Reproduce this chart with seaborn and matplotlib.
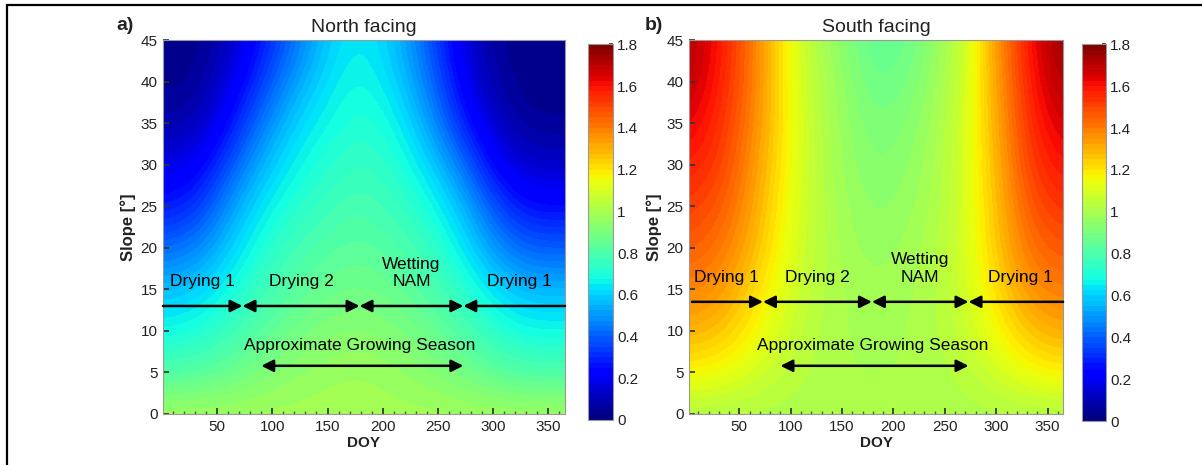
import numpy as np
import matplotlib
matplotlib.use("Agg")
import matplotlib.pyplot as plt
from matplotlib.colors import BoundaryNorm
from matplotlib.patches import Rectangle
import seaborn as sns

# grid: day of year (columns, every 30 days) x slope (rows)
doy = [1, 31, 61, 91, 121, 151, 181, 211, 241, 271, 301, 331, 361]
slope = [0, 5, 10, 15, 20, 25, 30, 35, 40, 45]

# ratio of radiation on the slope to a flat surface, north facing
north_ratio = [
    [0.99, 0.99, 0.99, 0.99, 0.99, 0.99, 0.99, 0.99, 0.99, 0.99, 0.99, 0.99, 0.99],
    [0.80, 0.82, 0.86, 0.91, 0.95, 0.97, 0.98, 0.96, 0.93, 0.89, 0.84, 0.80, 0.80],
    [0.68, 0.70, 0.76, 0.83, 0.88, 0.92, 0.93, 0.91, 0.87, 0.81, 0.73, 0.68, 0.68],
    [0.57, 0.60, 0.68, 0.77, 0.83, 0.87, 0.88, 0.86, 0.81, 0.74, 0.63, 0.56, 0.56],
    [0.42, 0.46, 0.60, 0.71, 0.78, 0.82, 0.84, 0.81, 0.76, 0.66, 0.50, 0.40, 0.40],
    [0.27, 0.31, 0.50, 0.65, 0.72, 0.77, 0.80, 0.76, 0.70, 0.58, 0.37, 0.25, 0.25],
    [0.17, 0.20, 0.37, 0.56, 0.67, 0.72, 0.76, 0.72, 0.63, 0.45, 0.22, 0.13, 0.13],
    [0.08, 0.09, 0.25, 0.45, 0.61, 0.68, 0.72, 0.68, 0.53, 0.30, 0.13, 0.05, 0.05],
    [0.04, 0.04, 0.17, 0.34, 0.52, 0.64, 0.69, 0.62, 0.45, 0.22, 0.07, 0.03, 0.03],
    [0.03, 0.03, 0.10, 0.27, 0.43, 0.60, 0.66, 0.58, 0.40, 0.17, 0.05, 0.03, 0.03],
]

# same ratio, south facing
south_ratio = [
    [1.01, 1.01, 1.01, 1.01, 1.01, 1.01, 1.01, 1.01, 1.01, 1.01, 1.01, 1.01, 1.01],
    [1.17, 1.15, 1.10, 1.05, 1.02, 1.00, 1.00, 1.00, 1.01, 1.04, 1.09, 1.15, 1.18],
    [1.30, 1.27, 1.18, 1.09, 1.03, 1.00, 0.99, 1.00, 1.02, 1.07, 1.16, 1.27, 1.31],
    [1.39, 1.35, 1.24, 1.12, 1.04, 1.00, 0.98, 0.99, 1.02, 1.09, 1.22, 1.36, 1.40],
    [1.46, 1.42, 1.30, 1.15, 1.05, 0.99, 0.96, 0.98, 1.02, 1.10, 1.26, 1.42, 1.47],
    [1.52, 1.47, 1.34, 1.17, 1.05, 0.98, 0.94, 0.96, 1.01, 1.10, 1.28, 1.47, 1.54],
    [1.58, 1.52, 1.37, 1.19, 1.05, 0.97, 0.92, 0.94, 1.00, 1.10, 1.30, 1.52, 1.60],
    [1.64, 1.55, 1.40, 1.20, 1.05, 0.96, 0.90, 0.92, 0.99, 1.10, 1.32, 1.55, 1.66],
    [1.70, 1.58, 1.42, 1.20, 1.04, 0.95, 0.87, 0.89, 0.97, 1.09, 1.34, 1.58, 1.72],
    [1.72, 1.60, 1.42, 1.20, 1.02, 0.93, 0.84, 0.86, 0.95, 1.08, 1.36, 1.60, 1.76],
]

# seasons marked on the plots
phase_bounds = [1, 73, 179, 273, 365]
phase_labels = ["Drying 1", "Drying 2", "Wetting\nNAM", "Drying 1"]
growing_season = [90, 273]

panels = [
    ("a)", "North facing", north_ratio, 13.0),
    ("b)", "South facing", south_ratio, 13.5),
]

sns.set_theme(style="white")
plt.rcParams["font.family"] = ["Liberation Sans", "DejaVu Sans"]

fig = plt.figure(figsize=(12.02, 4.65), dpi=100)

ax_boxes = [[0.1356, 0.1097, 0.3344, 0.804], [0.5732, 0.1097, 0.3112, 0.804]]
cbar_boxes = [[0.4892, 0.0968, 0.0208, 0.808], [0.9002, 0.0946, 0.0200, 0.810]]
letter_x = [0.097, 0.536]

levels = np.linspace(0, 1.8, 73)
norm = BoundaryNorm(levels, ncolors=256)
ink = "#222222"
half_step = (doy[1] - doy[0]) / 2
extent = [doy[0] - half_step, doy[-1] + half_step, -2.5, 47.5]

for i, (letter, title, ratio, line_y) in enumerate(panels):
    ax = fig.add_axes(ax_boxes[i])
    im = ax.imshow(np.array(ratio), origin="lower", extent=extent, aspect="auto",
                   cmap="jet", norm=norm, interpolation="bicubic",
                   interpolation_stage="data")
    ax.set_xlim(1, 365)
    ax.set_ylim(0, 45)
    ax.set_xticks(range(50, 351, 50))
    ax.set_xticks(range(10, 361, 10), minor=True)
    ax.set_yticks(range(0, 46, 5))
    ax.tick_params(axis="both", which="major", direction="in", length=4,
                   labelsize=11, colors="#333333", labelcolor=ink, pad=4,
                   bottom=True, left=True)
    ax.tick_params(axis="x", which="minor", direction="in", length=2.5,
                   bottom=True, colors="#555555")
    for sp in ax.spines.values():
        sp.set_color("#999999")
        sp.set_linewidth(0.8)
    ax.set_xlabel("DOY", fontsize=11, fontweight="bold", color=ink, labelpad=2)
    ax.set_ylabel("Slope [°]", fontsize=12, fontweight="bold", color=ink,
                  labelpad=3)
    ax.set_title(title, fontsize=14, color=ink, pad=6)
    fig.text(letter_x[i], 0.935, letter, fontsize=14, fontweight="bold",
             color=ink, va="baseline")

    # season arrows along one line
    start = phase_bounds[0] if i == 0 else 4
    styles = ["-|>", "<|-|>", "<|-|>", "<|-"]
    for k in range(4):
        x0 = start if k == 0 else phase_bounds[k]
        x1 = phase_bounds[k + 1]
        ax.annotate("", xy=(x1, line_y), xytext=(x0, line_y),
                    arrowprops=dict(arrowstyle=styles[k], color="black",
                                    lw=1.8, shrinkA=0, shrinkB=0,
                                    mutation_scale=18))
        mid = (phase_bounds[k] + phase_bounds[k + 1]) / 2
        if k == 0:
            mid = 37
        elif k == 3:
            mid = 324
        ty = line_y + 2.9 if "\n" not in phase_labels[k] else line_y + 4.0
        ax.text(mid, ty, phase_labels[k], ha="center", va="center",
                fontsize=12.5, color="black", linespacing=1.2)

    ax.text(179.5, 8.2, "Approximate Growing Season", ha="center",
            va="center", fontsize=12.5, color="black")
    ax.annotate("", xy=(growing_season[1], 5.8), xytext=(growing_season[0], 5.8),
                arrowprops=dict(arrowstyle="<|-|>", color="black", lw=1.8,
                                shrinkA=0, shrinkB=0, mutation_scale=18))

    cax = fig.add_axes(cbar_boxes[i])
    cb = fig.colorbar(im, cax=cax, ticks=np.arange(0, 1.81, 0.2))
    cb.minorticks_off()
    cb.ax.set_yticklabels(["%g" % round(t, 1) for t in np.arange(0, 1.81, 0.2)])
    cb.ax.tick_params(direction="in", length=3, labelsize=11,
                      colors="#333333", labelcolor=ink, pad=3)
    cb.outline.set_edgecolor("#999999")
    cb.outline.set_linewidth(0.8)

# frame around the figure (cropped at right and bottom in the original)
fig.patches.append(Rectangle((0.006, -0.1), 1.2, 1.1 - 5 / 465, fill=False,
                             edgecolor="black", linewidth=1.6,
                             transform=fig.transFigure, figure=fig))

fig.savefig("out.png", dpi=100)
